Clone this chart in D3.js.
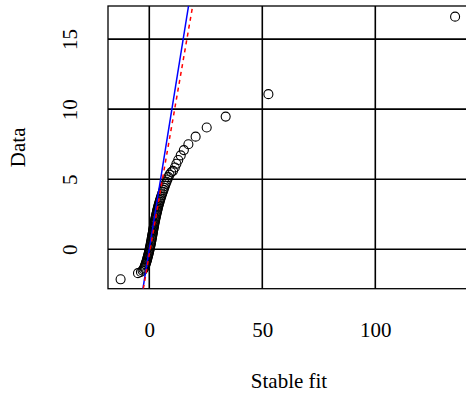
<!DOCTYPE html>
<html>
<head>
<meta charset="utf-8">
<script src="https://cdn.jsdelivr.net/npm/d3@7"></script>
<style>
  html, body { margin: 0; padding: 0; background: #fff; }
  svg { display: block; }
  svg text { font-family: "Liberation Serif", "Times New Roman", Times, serif; font-size: 21px; fill: #000; }
</style>
</head>
<body>
<svg id="chart" width="466" height="398"></svg>
<script>
// Quantiles of the fitted stable distribution (x) against sorted data (y)
const fitQuantiles = [
  -12.7, -5.0, -3.7, -3.0, -2.6, -2.3, -2.05, -1.85, -1.65, -1.45,
  -1.28, -1.1, -0.95, -0.8, -0.65, -0.5, -0.36, -0.22, -0.09, 0.04,
  0.16, 0.28, 0.40, 0.51, 0.62, 0.73, 0.84, 0.94, 1.04, 1.14,
  1.24, 1.34, 1.44, 1.54, 1.64, 1.74, 1.84, 1.94, 2.04, 2.14,
  2.24, 2.35, 2.46, 2.57, 2.68, 2.80, 2.92, 3.04, 3.17, 3.30,
  3.43, 3.57, 3.71, 3.86, 4.02, 4.19, 4.37, 4.56, 4.76, 4.97,
  5.2, 5.45, 5.7, 5.97, 6.26, 6.57, 6.9, 7.25, 7.6, 8.0,
  8.45, 8.95, 9.7, 10.5, 11.3, 12.0, 12.8, 13.9, 15.3, 17.3,
  20.5, 25.4, 33.8, 52.7, 135.3
];
const dataQuantiles = [
  -2.14, -1.70, -1.62, -1.52, -1.42, -1.33, -1.24, -1.15, -1.06, -0.97,
  -0.88, -0.79, -0.70, -0.61, -0.52, -0.43, -0.34, -0.25, -0.16, -0.07,
  0.02, 0.11, 0.20, 0.29, 0.38, 0.47, 0.56, 0.65, 0.74, 0.83,
  0.92, 1.01, 1.10, 1.19, 1.28, 1.37, 1.46, 1.55, 1.64, 1.73,
  1.82, 1.91, 2.00, 2.09, 2.18, 2.27, 2.36, 2.45, 2.54, 2.63,
  2.72, 2.81, 2.90, 3.00, 3.10, 3.20, 3.30, 3.40, 3.51, 3.62,
  3.74, 3.86, 3.98, 4.11, 4.24, 4.38, 4.52, 4.67, 4.82, 4.98,
  5.15, 5.33, 5.50, 5.60, 5.84, 6.10, 6.37, 6.70, 7.08, 7.50,
  8.04, 8.69, 9.47, 11.07, 16.6
];

// Reference lines as [intercept, slope]
const identityLine = [0, 1];
const quartileLine = [-0.37, 0.924];

const xTicks = [0, 50, 100];
const yTicks = [0, 5, 10, 15];
const xLabel = "Stable fit";
const yLabel = "Data";

// Plot region
const plotLeft = 108, plotRight = 470, plotTop = 6, plotBottom = 288.7;
const xDomain = [-18.27, 141.9];
const yDomain = [-2.81, 17.36];

const svg = d3.select("#chart");

const x = d3.scaleLinear().domain(xDomain).range([plotLeft, plotRight]);
const y = d3.scaleLinear().domain(yDomain).range([plotBottom, plotTop]);

svg.append("clipPath").attr("id", "plotClip")
  .append("rect")
  .attr("x", plotLeft).attr("y", plotTop)
  .attr("width", plotRight - plotLeft).attr("height", plotBottom - plotTop);

// Grid lines at the tick positions
const grid = svg.append("g").attr("stroke", "#000").attr("stroke-width", 1.6);
grid.selectAll("line.gx").data(xTicks).join("line")
  .attr("class", "gx")
  .attr("x1", d => x(d)).attr("x2", d => x(d))
  .attr("y1", plotTop).attr("y2", plotBottom);
grid.selectAll("line.gy").data(yTicks).join("line")
  .attr("class", "gy")
  .attr("x1", plotLeft).attr("x2", plotRight)
  .attr("y1", d => y(d)).attr("y2", d => y(d));

// Plot frame
svg.append("rect")
  .attr("x", plotLeft).attr("y", plotTop)
  .attr("width", plotRight - plotLeft).attr("height", plotBottom - plotTop)
  .attr("fill", "none").attr("stroke", "#000").attr("stroke-width", 1.3);

// Points
const pts = d3.zip(fitQuantiles, dataQuantiles);
svg.append("g")
  .attr("clip-path", "url(#plotClip)")
  .selectAll("circle").data(pts).join("circle")
  .attr("cx", d => x(d[0]))
  .attr("cy", d => y(d[1]))
  .attr("r", 4.5)
  .attr("fill", "none")
  .attr("stroke", "#000")
  .attr("stroke-width", 1.1);

// Reference lines, drawn across the full vertical range
function lineEnds(coef) {
  const [a, b] = coef;
  return yDomain.map(v => [(v - a) / b, v]);
}
const linePath = d3.line().x(d => x(d[0])).y(d => y(d[1]));
const lines = svg.append("g").attr("clip-path", "url(#plotClip)").attr("fill", "none");
lines.append("path")
  .attr("d", linePath(lineEnds(identityLine)))
  .attr("stroke", "#0000ff").attr("stroke-width", 1.5);
lines.append("path")
  .attr("d", linePath(lineEnds(quartileLine)))
  .attr("stroke", "#ff0000").attr("stroke-width", 1.5)
  .attr("stroke-dasharray", "4,4");

// Axes (labels only; the frame and grid carry the lines)
const xAxis = d3.axisBottom(x).tickValues(xTicks).tickSize(0).tickPadding(0).tickFormat(d3.format("d"));
const gx = svg.append("g").attr("transform", `translate(0,${plotBottom})`).call(xAxis);
gx.attr("font-family", null).attr("font-size", null);
gx.select(".domain").remove();
gx.selectAll(".tick text").attr("y", 48).attr("dy", null);

const yAxis = d3.axisLeft(y).tickValues(yTicks).tickSize(0).tickFormat(d3.format("d"));
const gy = svg.append("g").attr("transform", `translate(${plotLeft},0)`).call(yAxis);
gy.attr("font-family", null).attr("font-size", null);
gy.select(".domain").remove();
gy.selectAll(".tick text")
  .attr("x", null).attr("dy", null)
  .attr("text-anchor", "middle")
  .attr("transform", "translate(-31,0) rotate(-90)");

svg.append("text")
  .attr("x", (plotLeft + plotRight) / 2).attr("y", 388)
  .attr("text-anchor", "middle")
  .text(xLabel);

svg.append("text")
  .attr("transform", `translate(25,${(plotTop + plotBottom) / 2}) rotate(-90)`)
  .attr("text-anchor", "middle")
  .text(yLabel);
</script>
</body>
</html>
